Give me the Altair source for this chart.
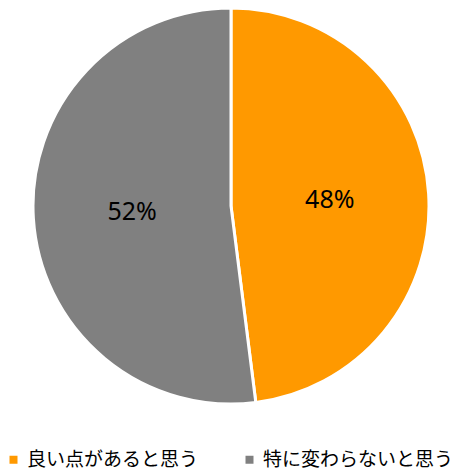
import altair as alt
import pandas as pd

categories = ["良い点があると思う", "特に変わらないと思う"]
values = [48, 52]
labels = ["48%", "52%"]
colors = ["#FF9900", "#808080"]

df = pd.DataFrame({"cat": categories, "val": values, "label": labels, "ord": [0, 1]})

FONT = "Noto Sans CJK JP"
CX, CY, R = 223, 198, 198

base = alt.Chart(df).encode(
    theta=alt.Theta("val:Q", stack=True),
    order=alt.Order("ord:Q"),
)

pie = base.mark_arc(outerRadius=R, stroke="white", strokeWidth=3).encode(
    x=alt.value(CX),
    y=alt.value(CY),
    color=alt.Color(
        "cat:N",
        scale=alt.Scale(domain=categories, range=colors),
        sort=categories,
        legend=alt.Legend(
            title=None,
            orient="none",
            legendX=-4,
            legendY=442,
            direction="horizontal",
            symbolType="square",
            symbolSize=64,
            symbolStrokeWidth=0,
            labelFont=FONT,
            labelFontSize=19,
            labelColor="#000000",
            labelOffset=4,
            columnPadding=41,
            labelLimit=300,
        ),
    ),
)

text = base.mark_text(radius=R / 2, font="Noto Sans", fontSize=25, color="#000000").encode(
    x=alt.value(CX),
    y=alt.value(CY),
    text="label:N",
)

chart = (
    alt.layer(pie, text)
    .properties(width=448, height=462, padding=0, autosize=alt.AutoSizeParams(type="none"))
    .configure_view(stroke=None)
)

chart.save("out.html", embed_options={"renderer": "svg", "actions": False})
